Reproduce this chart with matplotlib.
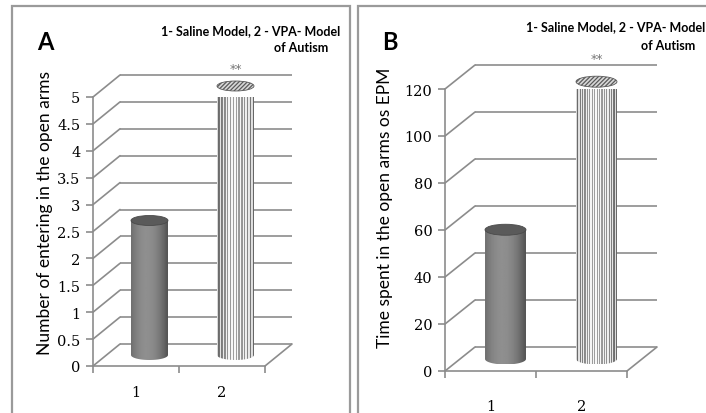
import numpy as np
import matplotlib
matplotlib.use("Agg")
import matplotlib.pyplot as plt
from matplotlib.patches import Ellipse, Polygon, Rectangle, ConnectionPatch
from matplotlib.transforms import ScaledTranslation

# groups on the x axis and the measured values of each panel
groups = ["1", "2"]
group_pos = [1, 2]
entries_open_arms = [2.5, 5.0]
time_open_arms = [55, 118]
entries_ticks = [0, 0.5, 1, 1.5, 2, 2.5, 3, 3.5, 4, 4.5, 5]
entries_ticklabels = ["0", "0.5", "1", "1.5", "2", "2.5", "3", "3.5", "4", "4.5", "5"]
time_ticks = [0, 20, 40, 60, 80, 100, 120]
time_ticklabels = ["0", "20", "40", "60", "80", "100", "120"]
key_line1 = "1- Saline Model, 2 - VPA- Model"
key_line2 = "of Autism"

W, H = 706, 414
GRID = "#8c8c8c"
plt.rcParams["hatch.linewidth"] = 0.9

fig = plt.figure(figsize=(W / 100, H / 100), dpi=100)


def px_axes(left, top, right, bottom):
    return fig.add_axes([left / W, 1 - bottom / H, (right - left) / W, (bottom - top) / H])


def shaded_texture(kind, n=48):
    u = np.linspace(0, 1, n)
    if kind == "solid":
        g = 0.29 + 0.27 * np.clip(1 - ((u - 0.42) / 0.62) ** 2, 0, None)
    else:
        edge = (2 * u - 1) ** 2
        g = np.where(np.arange(n) % 2 == 0, 0.97 - 0.12 * edge, 0.62 - 0.22 * edge)
    return np.tile(g, (2, 1))


def draw_panel(box, depth, values, ticks, ticklabels, width, cap_px, xpad, star_dy):
    ax = px_axes(*box)
    ymax = ticks[-1]
    ax.patch.set_visible(False)
    dx, dy = depth
    back = ax.transData + ScaledTranslation(dx / 100, dy / 100, fig.dpi_scale_trans)
    mid = ax.transData + ScaledTranslation(dx / 200, dy / 200, fig.dpi_scale_trans)

    # back wall gridlines and side wall diagonals
    ax.hlines(ticks, 0.5, 2.5, colors=GRID, lw=1.2, transform=back, clip_on=False, zorder=1)
    for t in ticks:
        ax.add_artist(ConnectionPatch((0.5, t), (0.5, t), coordsA=ax.transData, coordsB=back,
                                      color=GRID, lw=1.2, clip_on=False, zorder=1))
    ax.add_artist(ConnectionPatch((2.5, 0), (2.5, 0), coordsA=ax.transData, coordsB=back,
                                  color=GRID, lw=1.2, clip_on=False, zorder=1))

    ax.set_xlim(0.5, 2.5)
    ax.set_ylim(0, ymax)
    hd = cap_px * ymax / (box[3] - box[1])

    # cylinders
    for i, (x, v) in enumerate(zip(group_pos, values)):
        x0, x1 = x - width / 2, x + width / 2
        t = np.linspace(np.pi, 2 * np.pi, 60)
        outline = [(x0, v)] + list(zip(x + width / 2 * np.cos(t), hd / 2 * np.sin(t))) + [(x1, v)]
        clip = Polygon(outline, closed=True, transform=mid)
        kind = "solid" if i == 0 else "striped"
        img = ax.imshow(shaded_texture(kind), extent=(x0, x1, -hd / 2, v), transform=mid,
                        aspect="auto", cmap="gray", vmin=0, vmax=1,
                        interpolation="nearest" if kind == "striped" else "bilinear", zorder=3)
        img.set_clip_path(clip)
        if i == 0:
            cap = Ellipse((x, v), width, hd, transform=mid, facecolor="#5a5a5a",
                          edgecolor="#4a4a4a", lw=0.6, zorder=4)
        else:
            cap = Ellipse((x, v), width, hd, transform=mid, facecolor="#d8d8d8",
                          edgecolor="#5a5a5a", hatch="////////", lw=0.6, zorder=4)
        cap.set_clip_on(False)
        ax.add_patch(cap)

    ax.annotate("**", (group_pos[1], values[1]), xycoords=mid, xytext=(0, star_dy),
                textcoords="offset pixels", ha="center", va="center", fontsize=9, color="#777777")

    ax.set_xlim(0.5, 2.5)
    ax.set_ylim(0, ymax)
    for s in ("top", "right"):
        ax.spines[s].set_visible(False)
    for s in ("left", "bottom"):
        ax.spines[s].set_color(GRID)
        ax.spines[s].set_linewidth(1.2)
    ax.set_yticks(ticks, ticklabels)
    ax.set_xticks(group_pos, groups)
    ax.set_xticks([0.5, 1.5, 2.5], minor=True)
    ax.tick_params(axis="x", which="major", length=0, pad=xpad)
    ax.tick_params(axis="x", which="minor", length=5, color=GRID, width=1.2)
    ax.tick_params(axis="y", length=5, color=GRID, width=1.2, pad=4)
    ax.tick_params(labelsize=10.5, labelfontfamily="DejaVu Serif")
    return ax


# panel frames
fig.add_artist(Rectangle((12 / W, -0.1), 338 / W, 1.1 - 7 / H, transform=fig.transFigure,
                         fill=False, edgecolor="#9a9a9a", lw=1.6))
fig.add_artist(Rectangle((358 / W, -0.1), 400 / W, 1.1 - 7 / H, transform=fig.transFigure,
                         fill=False, edgecolor="#9a9a9a", lw=1.6))

draw_panel((93, 98, 265, 367), (27, 22), entries_open_arms, entries_ticks, entries_ticklabels,
           0.43, 10, 14, 17)
draw_panel((445, 90, 627, 372), (30, 24), time_open_arms, time_ticks, time_ticklabels,
           0.45, 11, 20, 23)

# axis titles, panel letters and group key
fig.text(45 / W, 1 - 213 / H, "Number of entering in the open arms", rotation=90,
         ha="center", va="center", fontsize=12.5, family="Lato")
fig.text(385 / W, 1 - 208 / H, "Time spent in the open arms os EPM", rotation=90,
         ha="center", va="center", fontsize=12.5, family="Lato")
fig.text(45 / W, 1 - 43 / H, "A", ha="center", va="center", fontsize=17, weight="bold", family="Lato")
fig.text(390 / W, 1 - 43 / H, "B", ha="center", va="center", fontsize=17, weight="bold", family="Lato")
for x_right, y1, x2_right, y2 in [(340, 31, 328, 48), (705, 27, 695, 46)]:
    fig.text(x_right / W, 1 - y1 / H, key_line1, ha="right", va="center", fontsize=9,
             weight="bold", family="Lato")
    fig.text(x2_right / W, 1 - y2 / H, key_line2, ha="right", va="center", fontsize=9,
             weight="bold", family="Lato")

fig.savefig("out.png", dpi=100)
